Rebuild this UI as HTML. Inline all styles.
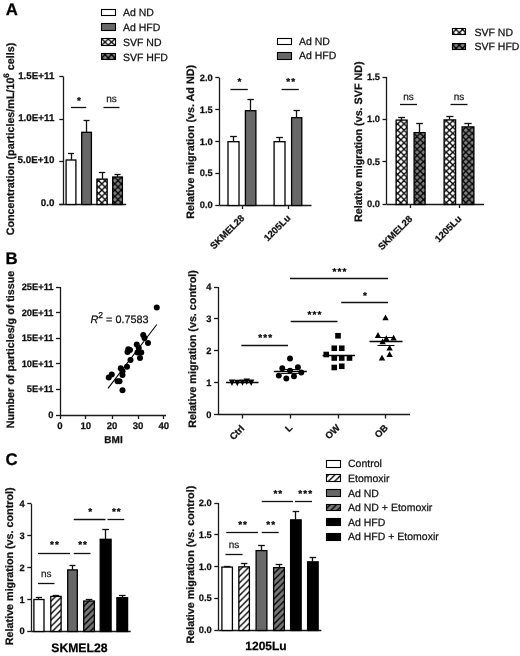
<!DOCTYPE html>
<html><head><meta charset="utf-8"><style>
html,body{margin:0;padding:0;background:#fff;width:520px;height:656px;overflow:hidden;font-family:"Liberation Sans", sans-serif;}
</style></head><body>
<svg width="520" height="656" viewBox="0 0 520 656" style="position:absolute;left:0;top:0;will-change:transform" text-rendering="geometricPrecision" font-family='"Liberation Sans", sans-serif'>
<defs>
 <pattern id="xw" patternUnits="userSpaceOnUse" width="6.5" height="6.3" x="4.3" y="1.1">
  <rect width="6.5" height="6.3" fill="#fff"/>
  <path d="M0,0 L6.5,6.3 M6.5,0 L0,6.3" stroke="#000" stroke-width="1.3"/>
 </pattern>
 <pattern id="xg" patternUnits="userSpaceOnUse" width="6.5" height="6.3" x="4.3" y="1.1">
  <rect width="6.5" height="6.3" fill="#808080"/>
  <path d="M0,0 L6.5,6.3 M6.5,0 L0,6.3" stroke="#000" stroke-width="1.3"/>
 </pattern>
 <pattern id="hw" patternUnits="userSpaceOnUse" width="6.3" height="6.3" x="3.3" y="0">
  <rect width="6.3" height="6.3" fill="#fff"/>
  <path d="M-1,7.3 L7.3,-1 M-1,1 L1,-1 M5.3,7.3 L7.3,5.3" stroke="#000" stroke-width="1.4"/>
 </pattern>
 <pattern id="hg" patternUnits="userSpaceOnUse" width="6.3" height="6.3" x="3.3" y="0">
  <rect width="6.3" height="6.3" fill="#777777"/>
  <path d="M-1,7.3 L7.3,-1 M-1,1 L1,-1 M5.3,7.3 L7.3,5.3" stroke="#000" stroke-width="1.4"/>
 </pattern>
</defs>
<text x="5.8" y="15.3" font-size="16.8" font-weight="bold" text-anchor="start" fill="#000" stroke="#000" stroke-width="0.25" >A</text>
<text x="5.6" y="263.8" font-size="16.8" font-weight="bold" text-anchor="start" fill="#000" stroke="#000" stroke-width="0.25" >B</text>
<text x="5.4" y="464.6" font-size="16.8" font-weight="bold" text-anchor="start" fill="#000" stroke="#000" stroke-width="0.25" >C</text>
<rect x="101.5" y="9.5" width="14.0" height="6.0" fill="#fff" stroke="#000" stroke-width="1.1"/>
<rect x="101.5" y="23.5" width="14.0" height="7.0" fill="#686868" stroke="#000" stroke-width="1.1"/>
<rect x="101.5" y="38.5" width="14.0" height="7.0" fill="url(#xw)" stroke="#000" stroke-width="1.1"/>
<rect x="101.5" y="53.5" width="14.0" height="6.0" fill="url(#xg)" stroke="#000" stroke-width="1.1"/>
<text x="123" y="16.3" font-size="10.5" font-weight="normal" text-anchor="start" fill="#111" stroke="#111" stroke-width="0.25" >Ad ND</text>
<text x="123" y="31.3" font-size="10.5" font-weight="normal" text-anchor="start" fill="#111" stroke="#111" stroke-width="0.25" >Ad HFD</text>
<text x="123" y="46.3" font-size="10.5" font-weight="normal" text-anchor="start" fill="#111" stroke="#111" stroke-width="0.25" >SVF ND</text>
<text x="123" y="61.3" font-size="10.5" font-weight="normal" text-anchor="start" fill="#111" stroke="#111" stroke-width="0.25" >SVF HFD</text>
<line x1="63.5" y1="76.5" x2="63.5" y2="204" stroke="#1a1a1a" stroke-width="1.3"/>
<line x1="59.3" y1="76.5" x2="63.3" y2="76.5" stroke="#1a1a1a" stroke-width="1.3"/>
<text x="54.4" y="78.5" font-size="9.8" font-weight="bold" text-anchor="end" fill="#111" stroke="#111" stroke-width="0.25" >1.5E+11</text>
<line x1="59.3" y1="119.5" x2="63.3" y2="119.5" stroke="#1a1a1a" stroke-width="1.3"/>
<text x="54.4" y="121.0" font-size="9.8" font-weight="bold" text-anchor="end" fill="#111" stroke="#111" stroke-width="0.25" >1.0E+11</text>
<line x1="59.3" y1="161.5" x2="63.3" y2="161.5" stroke="#1a1a1a" stroke-width="1.3"/>
<text x="54.4" y="163.1" font-size="9.8" font-weight="bold" text-anchor="end" fill="#111" stroke="#111" stroke-width="0.25" >5.0E+10</text>
<line x1="59.3" y1="204.5" x2="63.3" y2="204.5" stroke="#1a1a1a" stroke-width="1.3"/>
<text x="54.4" y="206.0" font-size="9.8" font-weight="bold" text-anchor="end" fill="#111" stroke="#111" stroke-width="0.25" >0.0</text>
<line x1="59.3" y1="204.5" x2="126.2" y2="204.5" stroke="#1a1a1a" stroke-width="1.3"/>
<rect x="66.1" y="160.0" width="9.800000000000011" height="44.5" fill="#fff" stroke="#000" stroke-width="1.3"/>
<line x1="71.5" y1="160.0" x2="71.5" y2="153.2" stroke="#111" stroke-width="1.3"/>
<line x1="67.962" y1="153.5" x2="74.038" y2="153.5" stroke="#111" stroke-width="1.3"/>
<rect x="81.7" y="132.3" width="9.700000000000003" height="72.19999999999999" fill="#686868" stroke="#000" stroke-width="1.3"/>
<line x1="86.5" y1="132.3" x2="86.5" y2="120.1" stroke="#111" stroke-width="1.3"/>
<line x1="83.543" y1="120.5" x2="89.55700000000002" y2="120.5" stroke="#111" stroke-width="1.3"/>
<rect x="96.9" y="179.1" width="10.299999999999997" height="25.400000000000006" fill="url(#xw)" stroke="#000" stroke-width="1.3"/>
<line x1="102.5" y1="179.1" x2="102.5" y2="172.4" stroke="#111" stroke-width="1.3"/>
<line x1="98.85700000000001" y1="172.5" x2="105.24300000000001" y2="172.5" stroke="#111" stroke-width="1.3"/>
<rect x="112.7" y="177.0" width="9.700000000000003" height="27.5" fill="url(#xg)" stroke="#000" stroke-width="1.3"/>
<line x1="117.5" y1="177.0" x2="117.5" y2="174" stroke="#111" stroke-width="1.3"/>
<line x1="114.543" y1="174.5" x2="120.55700000000002" y2="174.5" stroke="#111" stroke-width="1.3"/>
<line x1="70.9" y1="107.5" x2="86.2" y2="107.5" stroke="#111" stroke-width="1.3"/>
<text x="79.55000000000001" y="103.7" font-size="10" font-weight="bold" text-anchor="middle" fill="#000" stroke="#000" stroke-width="0.25" letter-spacing="1.1">*</text>
<line x1="103.5" y1="107.5" x2="119.5" y2="107.5" stroke="#111" stroke-width="1.3"/>
<text x="111.5" y="101.5" font-size="10" font-weight="normal" text-anchor="middle" fill="#222" stroke="#222" stroke-width="0.25" >ns</text>
<text transform="translate(14,139) rotate(-90)" font-size="10.75" font-weight="bold" text-anchor="middle" fill="#111" stroke="#111" stroke-width="0.25">Concentration (particles/mL/10<tspan font-size="8" dy="-5">6</tspan><tspan dy="5"> cells)</tspan></text>
<rect x="277.5" y="38.5" width="14.0" height="6.0" fill="#fff" stroke="#000" stroke-width="1.1"/>
<rect x="277.5" y="52.5" width="14.0" height="7.0" fill="#686868" stroke="#000" stroke-width="1.1"/>
<text x="299" y="44.8" font-size="10.5" font-weight="normal" text-anchor="start" fill="#111" stroke="#111" stroke-width="0.25" >Ad ND</text>
<text x="299" y="59.4" font-size="10.5" font-weight="normal" text-anchor="start" fill="#111" stroke="#111" stroke-width="0.25" >Ad HFD</text>
<line x1="219.5" y1="77.7" x2="219.5" y2="205.3" stroke="#1a1a1a" stroke-width="1.3"/>
<line x1="215.3" y1="77.5" x2="219.3" y2="77.5" stroke="#1a1a1a" stroke-width="1.3"/>
<text x="212.8" y="80.7" font-size="9.3" font-weight="bold" text-anchor="end" fill="#111" stroke="#111" stroke-width="0.25" >2.0</text>
<line x1="215.3" y1="109.5" x2="219.3" y2="109.5" stroke="#1a1a1a" stroke-width="1.3"/>
<text x="212.8" y="112.6" font-size="9.3" font-weight="bold" text-anchor="end" fill="#111" stroke="#111" stroke-width="0.25" >1.5</text>
<line x1="215.3" y1="141.5" x2="219.3" y2="141.5" stroke="#1a1a1a" stroke-width="1.3"/>
<text x="212.8" y="144.5" font-size="9.3" font-weight="bold" text-anchor="end" fill="#111" stroke="#111" stroke-width="0.25" >1.0</text>
<line x1="215.3" y1="173.5" x2="219.3" y2="173.5" stroke="#1a1a1a" stroke-width="1.3"/>
<text x="212.8" y="176.4" font-size="9.3" font-weight="bold" text-anchor="end" fill="#111" stroke="#111" stroke-width="0.25" >0.5</text>
<line x1="215.3" y1="205.5" x2="219.3" y2="205.5" stroke="#1a1a1a" stroke-width="1.3"/>
<text x="212.8" y="208.3" font-size="9.3" font-weight="bold" text-anchor="end" fill="#111" stroke="#111" stroke-width="0.25" >0.0</text>
<line x1="219.3" y1="205.5" x2="311.5" y2="205.5" stroke="#1a1a1a" stroke-width="1.3"/>
<line x1="242.5" y1="205.3" x2="242.5" y2="209" stroke="#1a1a1a" stroke-width="1.3"/>
<line x1="288.5" y1="205.3" x2="288.5" y2="209" stroke="#1a1a1a" stroke-width="1.3"/>
<rect x="228.0" y="141.7" width="11.0" height="63.80000000000001" fill="#fff" stroke="#000" stroke-width="1.3"/>
<line x1="233.5" y1="141.7" x2="233.5" y2="136.7" stroke="#111" stroke-width="1.3"/>
<line x1="230.09" y1="136.5" x2="236.91" y2="136.5" stroke="#111" stroke-width="1.3"/>
<rect x="245.4" y="110.7" width="10.5" height="94.8" fill="#686868" stroke="#000" stroke-width="1.3"/>
<line x1="250.5" y1="110.7" x2="250.5" y2="99.9" stroke="#111" stroke-width="1.3"/>
<line x1="247.395" y1="99.5" x2="253.905" y2="99.5" stroke="#111" stroke-width="1.3"/>
<rect x="274.1" y="141.7" width="10.899999999999977" height="63.80000000000001" fill="#fff" stroke="#000" stroke-width="1.3"/>
<line x1="279.5" y1="141.7" x2="279.5" y2="137.3" stroke="#111" stroke-width="1.3"/>
<line x1="276.171" y1="137.5" x2="282.92900000000003" y2="137.5" stroke="#111" stroke-width="1.3"/>
<rect x="291.6" y="117.7" width="10.199999999999989" height="87.8" fill="#686868" stroke="#000" stroke-width="1.3"/>
<line x1="296.5" y1="117.7" x2="296.5" y2="110.6" stroke="#111" stroke-width="1.3"/>
<line x1="293.53800000000007" y1="110.5" x2="299.862" y2="110.5" stroke="#111" stroke-width="1.3"/>
<line x1="230.4" y1="89.5" x2="247.8" y2="89.5" stroke="#111" stroke-width="1.3"/>
<text x="240.10000000000002" y="84.7" font-size="10" font-weight="bold" text-anchor="middle" fill="#000" stroke="#000" stroke-width="0.25" letter-spacing="1.1">*</text>
<line x1="281.6" y1="89.5" x2="298.8" y2="89.5" stroke="#111" stroke-width="1.3"/>
<text x="291.20000000000005" y="84.7" font-size="10" font-weight="bold" text-anchor="middle" fill="#000" stroke="#000" stroke-width="0.25" letter-spacing="1.1">**</text>
<text transform="translate(193.5,141.85) rotate(-90)" font-size="10.75" font-weight="bold" text-anchor="middle" fill="#111" stroke="#111" stroke-width="0.25">Relative migration (vs. Ad ND)</text>
<text transform="translate(245,218.7) rotate(-45)" font-size="9.5" font-weight="bold" text-anchor="end" fill="#111" stroke="#111" stroke-width="0.25">SKMEL28</text>
<text transform="translate(291,218.7) rotate(-45)" font-size="9.5" font-weight="bold" text-anchor="end" fill="#111" stroke="#111" stroke-width="0.25">1205Lu</text>
<rect x="452.5" y="28.5" width="13.0" height="6.0" fill="url(#xw)" stroke="#000" stroke-width="1.1"/>
<rect x="452.5" y="43.5" width="13.0" height="6.0" fill="url(#xg)" stroke="#000" stroke-width="1.1"/>
<text x="474.5" y="35.5" font-size="10.5" font-weight="normal" text-anchor="start" fill="#111" stroke="#111" stroke-width="0.25" >SVF ND</text>
<text x="474.5" y="50.3" font-size="10.5" font-weight="normal" text-anchor="start" fill="#111" stroke="#111" stroke-width="0.25" >SVF HFD</text>
<line x1="386.5" y1="77" x2="386.5" y2="204.3" stroke="#1a1a1a" stroke-width="1.3"/>
<line x1="382.5" y1="77.5" x2="386.5" y2="77.5" stroke="#1a1a1a" stroke-width="1.3"/>
<text x="380.0" y="80.0" font-size="9.3" font-weight="bold" text-anchor="end" fill="#111" stroke="#111" stroke-width="0.25" >1.5</text>
<line x1="382.5" y1="119.5" x2="386.5" y2="119.5" stroke="#1a1a1a" stroke-width="1.3"/>
<text x="380.0" y="122.2" font-size="9.3" font-weight="bold" text-anchor="end" fill="#111" stroke="#111" stroke-width="0.25" >1.0</text>
<line x1="382.5" y1="161.5" x2="386.5" y2="161.5" stroke="#1a1a1a" stroke-width="1.3"/>
<text x="380.0" y="164.7" font-size="9.3" font-weight="bold" text-anchor="end" fill="#111" stroke="#111" stroke-width="0.25" >0.5</text>
<line x1="382.5" y1="204.5" x2="386.5" y2="204.5" stroke="#1a1a1a" stroke-width="1.3"/>
<text x="380.0" y="207.3" font-size="9.3" font-weight="bold" text-anchor="end" fill="#111" stroke="#111" stroke-width="0.25" >0.0</text>
<line x1="386.5" y1="204.5" x2="484" y2="204.5" stroke="#1a1a1a" stroke-width="1.3"/>
<line x1="410.5" y1="204" x2="410.5" y2="208" stroke="#1a1a1a" stroke-width="1.3"/>
<line x1="459.5" y1="204" x2="459.5" y2="208" stroke="#1a1a1a" stroke-width="1.3"/>
<rect x="396.1" y="120.1" width="11.0" height="84.4" fill="url(#xw)" stroke="#000" stroke-width="1.3"/>
<line x1="401.5" y1="120.1" x2="401.5" y2="117.3" stroke="#111" stroke-width="1.3"/>
<line x1="398.19" y1="117.5" x2="405.01000000000005" y2="117.5" stroke="#111" stroke-width="1.3"/>
<rect x="414.1" y="132.6" width="11.0" height="71.9" fill="url(#xg)" stroke="#000" stroke-width="1.3"/>
<line x1="419.5" y1="132.6" x2="419.5" y2="123.9" stroke="#111" stroke-width="1.3"/>
<line x1="416.19" y1="123.5" x2="423.01000000000005" y2="123.5" stroke="#111" stroke-width="1.3"/>
<rect x="444.1" y="119.9" width="11.5" height="84.6" fill="url(#xw)" stroke="#000" stroke-width="1.3"/>
<line x1="449.5" y1="119.9" x2="449.5" y2="116.5" stroke="#111" stroke-width="1.3"/>
<line x1="446.285" y1="116.5" x2="453.415" y2="116.5" stroke="#111" stroke-width="1.3"/>
<rect x="462.1" y="126.9" width="11.799999999999955" height="77.6" fill="url(#xg)" stroke="#000" stroke-width="1.3"/>
<line x1="468.5" y1="126.9" x2="468.5" y2="123" stroke="#111" stroke-width="1.3"/>
<line x1="464.34200000000004" y1="123.5" x2="471.65799999999996" y2="123.5" stroke="#111" stroke-width="1.3"/>
<line x1="400" y1="104.5" x2="417" y2="104.5" stroke="#111" stroke-width="1.3"/>
<text x="408.5" y="100" font-size="10" font-weight="normal" text-anchor="middle" fill="#222" stroke="#222" stroke-width="0.25" >ns</text>
<line x1="450.5" y1="104.5" x2="467.5" y2="104.5" stroke="#111" stroke-width="1.3"/>
<text x="459.0" y="100" font-size="10" font-weight="normal" text-anchor="middle" fill="#222" stroke="#222" stroke-width="0.25" >ns</text>
<text transform="translate(361.5,141.75) rotate(-90)" font-size="10.75" font-weight="bold" text-anchor="middle" fill="#111" stroke="#111" stroke-width="0.25">Relative migration (vs. SVF ND)</text>
<text transform="translate(413,219.5) rotate(-45)" font-size="9.5" font-weight="bold" text-anchor="end" fill="#111" stroke="#111" stroke-width="0.25">SKMEL28</text>
<text transform="translate(462,219.5) rotate(-45)" font-size="9.5" font-weight="bold" text-anchor="end" fill="#111" stroke="#111" stroke-width="0.25">1205Lu</text>
<line x1="60.5" y1="287" x2="60.5" y2="415" stroke="#1a1a1a" stroke-width="1.3"/>
<line x1="56" y1="287.5" x2="60" y2="287.5" stroke="#1a1a1a" stroke-width="1.3"/>
<text x="53.5" y="290.0" font-size="9.3" font-weight="bold" text-anchor="end" fill="#111" stroke="#111" stroke-width="0.25" >25E+11</text>
<line x1="56" y1="312.5" x2="60" y2="312.5" stroke="#1a1a1a" stroke-width="1.3"/>
<text x="53.5" y="315.5" font-size="9.3" font-weight="bold" text-anchor="end" fill="#111" stroke="#111" stroke-width="0.25" >20E+11</text>
<line x1="56" y1="338.5" x2="60" y2="338.5" stroke="#1a1a1a" stroke-width="1.3"/>
<text x="53.5" y="341.2" font-size="9.3" font-weight="bold" text-anchor="end" fill="#111" stroke="#111" stroke-width="0.25" >15E+11</text>
<line x1="56" y1="363.5" x2="60" y2="363.5" stroke="#1a1a1a" stroke-width="1.3"/>
<text x="53.5" y="366.8" font-size="9.3" font-weight="bold" text-anchor="end" fill="#111" stroke="#111" stroke-width="0.25" >10E+11</text>
<line x1="56" y1="389.5" x2="60" y2="389.5" stroke="#1a1a1a" stroke-width="1.3"/>
<text x="53.5" y="392.3" font-size="9.3" font-weight="bold" text-anchor="end" fill="#111" stroke="#111" stroke-width="0.25" >5E+11</text>
<line x1="56" y1="415.5" x2="60" y2="415.5" stroke="#1a1a1a" stroke-width="1.3"/>
<text x="53.5" y="418.0" font-size="9.3" font-weight="bold" text-anchor="end" fill="#111" stroke="#111" stroke-width="0.25" >0</text>
<line x1="60" y1="415.5" x2="166" y2="415.5" stroke="#1a1a1a" stroke-width="1.3"/>
<line x1="60.5" y1="415" x2="60.5" y2="419" stroke="#1a1a1a" stroke-width="1.3"/>
<text x="60" y="428.6" font-size="9.6" font-weight="bold" text-anchor="middle" fill="#111" stroke="#111" stroke-width="0.25" >0</text>
<line x1="85.5" y1="415" x2="85.5" y2="419" stroke="#1a1a1a" stroke-width="1.3"/>
<text x="85.8" y="428.6" font-size="9.6" font-weight="bold" text-anchor="middle" fill="#111" stroke="#111" stroke-width="0.25" >10</text>
<line x1="112.5" y1="415" x2="112.5" y2="419" stroke="#1a1a1a" stroke-width="1.3"/>
<text x="112" y="428.6" font-size="9.6" font-weight="bold" text-anchor="middle" fill="#111" stroke="#111" stroke-width="0.25" >20</text>
<line x1="138.5" y1="415" x2="138.5" y2="419" stroke="#1a1a1a" stroke-width="1.3"/>
<text x="138" y="428.6" font-size="9.6" font-weight="bold" text-anchor="middle" fill="#111" stroke="#111" stroke-width="0.25" >30</text>
<line x1="163.5" y1="415" x2="163.5" y2="419" stroke="#1a1a1a" stroke-width="1.3"/>
<text x="163.8" y="428.6" font-size="9.6" font-weight="bold" text-anchor="middle" fill="#111" stroke="#111" stroke-width="0.25" >40</text>
<text x="113.5" y="442.5" font-size="10" font-weight="bold" text-anchor="middle" fill="#111" stroke="#111" stroke-width="0.25" >BMI</text>
<text transform="translate(14,349.5) rotate(-90)" font-size="10.75" font-weight="bold" text-anchor="middle" fill="#111" stroke="#111" stroke-width="0.25">Number of particles/g of tissue</text>
<text x="90.5" y="323" font-size="10.8" fill="#111" stroke="#111" stroke-width="0.25"><tspan font-style="italic">R</tspan><tspan font-size="8.6" dy="-5">2</tspan><tspan dy="5"> = 0.7583</tspan></text>
<line x1="108" y1="388.3" x2="156.8" y2="324.5" stroke="#000" stroke-width="1.1"/>
<circle cx="156.75" cy="307.5" r="3.0" fill="#000"/>
<circle cx="143.25" cy="335" r="3.0" fill="#000"/>
<circle cx="144.5" cy="338" r="3.0" fill="#000"/>
<circle cx="148" cy="343" r="3.0" fill="#000"/>
<circle cx="136.75" cy="344.5" r="3.0" fill="#000"/>
<circle cx="138.75" cy="348" r="3.0" fill="#000"/>
<circle cx="128.25" cy="349.25" r="3.0" fill="#000"/>
<circle cx="130" cy="350" r="3.0" fill="#000"/>
<circle cx="127.5" cy="352" r="3.0" fill="#000"/>
<circle cx="137.5" cy="352.5" r="3.0" fill="#000"/>
<circle cx="141.25" cy="352.5" r="3.0" fill="#000"/>
<circle cx="140" cy="358" r="3.0" fill="#000"/>
<circle cx="130.5" cy="360" r="3.0" fill="#000"/>
<circle cx="127" cy="366.75" r="3.0" fill="#000"/>
<circle cx="120.75" cy="368.25" r="3.0" fill="#000"/>
<circle cx="122.5" cy="371.25" r="3.0" fill="#000"/>
<circle cx="111.75" cy="374.5" r="3.0" fill="#000"/>
<circle cx="108.75" cy="377.5" r="3.0" fill="#000"/>
<circle cx="122.5" cy="375" r="3.0" fill="#000"/>
<circle cx="117.5" cy="381.25" r="3.0" fill="#000"/>
<circle cx="119.5" cy="381.25" r="3.0" fill="#000"/>
<circle cx="122.5" cy="390.3" r="3.0" fill="#000"/>
<line x1="218.5" y1="287" x2="218.5" y2="414.5" stroke="#1a1a1a" stroke-width="1.3"/>
<line x1="214" y1="287.5" x2="218" y2="287.5" stroke="#1a1a1a" stroke-width="1.3"/>
<text x="211.5" y="290.0" font-size="9.3" font-weight="bold" text-anchor="end" fill="#111" stroke="#111" stroke-width="0.25" >4</text>
<line x1="214" y1="318.5" x2="218" y2="318.5" stroke="#1a1a1a" stroke-width="1.3"/>
<text x="211.5" y="321.8" font-size="9.3" font-weight="bold" text-anchor="end" fill="#111" stroke="#111" stroke-width="0.25" >3</text>
<line x1="214" y1="350.5" x2="218" y2="350.5" stroke="#1a1a1a" stroke-width="1.3"/>
<text x="211.5" y="353.5" font-size="9.3" font-weight="bold" text-anchor="end" fill="#111" stroke="#111" stroke-width="0.25" >2</text>
<line x1="214" y1="382.5" x2="218" y2="382.5" stroke="#1a1a1a" stroke-width="1.3"/>
<text x="211.5" y="385.5" font-size="9.3" font-weight="bold" text-anchor="end" fill="#111" stroke="#111" stroke-width="0.25" >1</text>
<line x1="214" y1="414.5" x2="218" y2="414.5" stroke="#1a1a1a" stroke-width="1.3"/>
<text x="211.5" y="417.5" font-size="9.3" font-weight="bold" text-anchor="end" fill="#111" stroke="#111" stroke-width="0.25" >0</text>
<line x1="218" y1="414.5" x2="410" y2="414.5" stroke="#1a1a1a" stroke-width="1.3"/>
<line x1="242.5" y1="414.5" x2="242.5" y2="418.5" stroke="#1a1a1a" stroke-width="1.3"/>
<line x1="290.5" y1="414.5" x2="290.5" y2="418.5" stroke="#1a1a1a" stroke-width="1.3"/>
<line x1="338.5" y1="414.5" x2="338.5" y2="418.5" stroke="#1a1a1a" stroke-width="1.3"/>
<line x1="385.5" y1="414.5" x2="385.5" y2="418.5" stroke="#1a1a1a" stroke-width="1.3"/>
<text transform="translate(196,349) rotate(-90)" font-size="10.75" font-weight="bold" text-anchor="middle" fill="#111" stroke="#111" stroke-width="0.25">Relative migration (vs. control)</text>
<text transform="translate(245,429) rotate(-45)" font-size="9.5" font-weight="bold" text-anchor="end" fill="#111" stroke="#111" stroke-width="0.25">Ctrl</text>
<text transform="translate(293,428.3) rotate(-45)" font-size="9.5" font-weight="bold" text-anchor="end" fill="#111" stroke="#111" stroke-width="0.25">L</text>
<text transform="translate(340.5,428.3) rotate(-45)" font-size="9.5" font-weight="bold" text-anchor="end" fill="#111" stroke="#111" stroke-width="0.25">OW</text>
<text transform="translate(388.5,428.3) rotate(-45)" font-size="9.5" font-weight="bold" text-anchor="end" fill="#111" stroke="#111" stroke-width="0.25">OB</text>
<path d="M228.9,379.5 L235.1,379.5 L232,385.90000000000003 Z" fill="#000"/>
<path d="M234.20000000000002,379.8 L240.4,379.8 L237.3,386.20000000000005 Z" fill="#000"/>
<path d="M239.4,379.4 L245.6,379.4 L242.5,385.8 Z" fill="#000"/>
<path d="M243.70000000000002,378.59999999999997 L249.9,378.59999999999997 L246.8,385.0 Z" fill="#000"/>
<path d="M248.1,379.59999999999997 L254.29999999999998,379.59999999999997 L251.2,386.0 Z" fill="#000"/>
<line x1="226" y1="382.5" x2="258.5" y2="382.5" stroke="#000" stroke-width="1.3"/>
<circle cx="290" cy="358.5" r="2.95" fill="#000"/>
<circle cx="282.3" cy="368.2" r="2.95" fill="#000"/>
<circle cx="297.9" cy="367.3" r="2.95" fill="#000"/>
<circle cx="290" cy="370.6" r="2.95" fill="#000"/>
<circle cx="301.3" cy="372.5" r="2.95" fill="#000"/>
<circle cx="278.8" cy="375.6" r="2.95" fill="#000"/>
<circle cx="294" cy="376.3" r="2.95" fill="#000"/>
<circle cx="286.3" cy="378.5" r="2.95" fill="#000"/>
<line x1="273.8" y1="371.5" x2="306.8" y2="371.5" stroke="#000" stroke-width="1.3"/>
<line x1="281" y1="369.5" x2="299" y2="369.5" stroke="#000" stroke-width="0.9"/>
<line x1="281" y1="373.5" x2="299" y2="373.5" stroke="#000" stroke-width="0.9"/>
<rect x="335.2" y="332.95" width="5.6" height="5.6" fill="#000"/>
<rect x="331.45" y="345.45" width="5.6" height="5.6" fill="#000"/>
<rect x="338.95" y="345.45" width="5.6" height="5.6" fill="#000"/>
<rect x="323.45" y="351.7" width="5.6" height="5.6" fill="#000"/>
<rect x="331.45" y="355.2" width="5.6" height="5.6" fill="#000"/>
<rect x="338.95" y="355.2" width="5.6" height="5.6" fill="#000"/>
<rect x="346.7" y="355.2" width="5.6" height="5.6" fill="#000"/>
<rect x="331.45" y="364.7" width="5.6" height="5.6" fill="#000"/>
<rect x="338.95" y="363.45" width="5.6" height="5.6" fill="#000"/>
<line x1="322.5" y1="355.5" x2="355" y2="355.5" stroke="#000" stroke-width="1.3"/>
<line x1="329.5" y1="352.5" x2="347" y2="352.5" stroke="#fff" stroke-width="0.9"/>
<path d="M382.3,320.2 L388.7,320.2 L385.5,314.4 Z" fill="#000"/>
<path d="M374.8,337.9 L381.2,337.9 L378,332.09999999999997 Z" fill="#000"/>
<path d="M390.40000000000003,340.5 L396.8,340.5 L393.6,334.7 Z" fill="#000"/>
<path d="M383.1,341.09999999999997 L389.5,341.09999999999997 L386.3,335.29999999999995 Z" fill="#000"/>
<path d="M379.40000000000003,344.2 L385.8,344.2 L382.6,338.4 Z" fill="#000"/>
<path d="M386.40000000000003,350.59999999999997 L392.8,350.59999999999997 L389.6,344.79999999999995 Z" fill="#000"/>
<path d="M378.8,360.59999999999997 L385.2,360.59999999999997 L382,354.79999999999995 Z" fill="#000"/>
<path d="M386.40000000000003,357.0 L392.8,357.0 L389.6,351.2 Z" fill="#000"/>
<line x1="369.5" y1="341.5" x2="402.5" y2="341.5" stroke="#000" stroke-width="1.3"/>
<line x1="377.5" y1="337.5" x2="394.5" y2="337.5" stroke="#000" stroke-width="1"/>
<line x1="377.5" y1="345.5" x2="394.5" y2="345.5" stroke="#000" stroke-width="1"/>
<line x1="241.3" y1="345.5" x2="288" y2="345.5" stroke="#111" stroke-width="1.3"/>
<text x="265.65" y="341.3" font-size="10" font-weight="bold" text-anchor="middle" fill="#000" stroke="#000" stroke-width="0.25" letter-spacing="1.1">***</text>
<line x1="290.7" y1="321.5" x2="337.5" y2="321.5" stroke="#111" stroke-width="1.3"/>
<text x="315.1" y="317.8" font-size="10" font-weight="bold" text-anchor="middle" fill="#000" stroke="#000" stroke-width="0.25" letter-spacing="1.1">***</text>
<line x1="341.2" y1="302.5" x2="388" y2="302.5" stroke="#111" stroke-width="1.3"/>
<text x="365.6" y="298.5" font-size="10" font-weight="bold" text-anchor="middle" fill="#000" stroke="#000" stroke-width="0.25" letter-spacing="1.1">*</text>
<line x1="290" y1="278.5" x2="388" y2="278.5" stroke="#111" stroke-width="1.3"/>
<text x="340.0" y="274.8" font-size="10" font-weight="bold" text-anchor="middle" fill="#000" stroke="#000" stroke-width="0.25" letter-spacing="1.1">***</text>
<line x1="31.5" y1="503.75" x2="31.5" y2="631.3" stroke="#1a1a1a" stroke-width="1.3"/>
<line x1="27.25" y1="503.5" x2="31.25" y2="503.5" stroke="#1a1a1a" stroke-width="1.3"/>
<text x="24.75" y="506.75" font-size="9.3" font-weight="bold" text-anchor="end" fill="#111" stroke="#111" stroke-width="0.25" >4</text>
<line x1="27.25" y1="535.5" x2="31.25" y2="535.5" stroke="#1a1a1a" stroke-width="1.3"/>
<text x="24.75" y="538.5" font-size="9.3" font-weight="bold" text-anchor="end" fill="#111" stroke="#111" stroke-width="0.25" >3</text>
<line x1="27.25" y1="567.5" x2="31.25" y2="567.5" stroke="#1a1a1a" stroke-width="1.3"/>
<text x="24.75" y="570.5" font-size="9.3" font-weight="bold" text-anchor="end" fill="#111" stroke="#111" stroke-width="0.25" >2</text>
<line x1="27.25" y1="599.5" x2="31.25" y2="599.5" stroke="#1a1a1a" stroke-width="1.3"/>
<text x="24.75" y="602.5" font-size="9.3" font-weight="bold" text-anchor="end" fill="#111" stroke="#111" stroke-width="0.25" >1</text>
<line x1="27.25" y1="631.5" x2="31.25" y2="631.5" stroke="#1a1a1a" stroke-width="1.3"/>
<text x="24.75" y="634.3" font-size="9.3" font-weight="bold" text-anchor="end" fill="#111" stroke="#111" stroke-width="0.25" >0</text>
<line x1="31.25" y1="631.5" x2="130.7" y2="631.5" stroke="#1a1a1a" stroke-width="1.3"/>
<rect x="33.9" y="599.5" width="10.100000000000001" height="32.0" fill="#fff" stroke="#000" stroke-width="1.3"/>
<line x1="38.5" y1="599.5" x2="38.5" y2="597.5" stroke="#111" stroke-width="1.3"/>
<line x1="35.819" y1="597.5" x2="42.081" y2="597.5" stroke="#111" stroke-width="1.3"/>
<rect x="50.8" y="596.4" width="10.300000000000004" height="35.10000000000002" fill="url(#hw)" stroke="#000" stroke-width="1.3"/>
<line x1="55.5" y1="596.4" x2="55.5" y2="595.0" stroke="#111" stroke-width="1.3"/>
<line x1="52.757000000000005" y1="595.5" x2="59.143" y2="595.5" stroke="#111" stroke-width="1.3"/>
<rect x="67.7" y="569.9" width="9.599999999999994" height="61.60000000000002" fill="#686868" stroke="#000" stroke-width="1.3"/>
<line x1="72.5" y1="569.9" x2="72.5" y2="565" stroke="#111" stroke-width="1.3"/>
<line x1="69.524" y1="565.5" x2="75.476" y2="565.5" stroke="#111" stroke-width="1.3"/>
<rect x="83.7" y="601.0" width="10.700000000000003" height="30.5" fill="url(#hg)" stroke="#000" stroke-width="1.3"/>
<line x1="89.5" y1="601.0" x2="89.5" y2="599.5" stroke="#111" stroke-width="1.3"/>
<line x1="85.733" y1="599.5" x2="92.36700000000002" y2="599.5" stroke="#111" stroke-width="1.3"/>
<rect x="100.2" y="539.3" width="10.899999999999991" height="92.20000000000005" fill="#000" stroke="#000" stroke-width="1.3"/>
<line x1="105.5" y1="539.3" x2="105.5" y2="529.4" stroke="#111" stroke-width="1.3"/>
<line x1="102.27100000000002" y1="529.5" x2="109.029" y2="529.5" stroke="#111" stroke-width="1.3"/>
<rect x="116.9" y="597.7" width="10.699999999999989" height="33.799999999999955" fill="#000" stroke="#000" stroke-width="1.3"/>
<line x1="122.5" y1="597.7" x2="122.5" y2="595.3" stroke="#111" stroke-width="1.3"/>
<line x1="118.933" y1="595.5" x2="125.567" y2="595.5" stroke="#111" stroke-width="1.3"/>
<line x1="38" y1="583.5" x2="54.5" y2="583.5" stroke="#111" stroke-width="1.3"/>
<text x="46.25" y="577" font-size="10" font-weight="normal" text-anchor="middle" fill="#222" stroke="#222" stroke-width="0.25" >ns</text>
<line x1="38" y1="553.5" x2="70" y2="553.5" stroke="#111" stroke-width="1.3"/>
<text x="55.0" y="548.2" font-size="10" font-weight="bold" text-anchor="middle" fill="#000" stroke="#000" stroke-width="0.25" letter-spacing="1.1">**</text>
<line x1="73.75" y1="553.5" x2="90.5" y2="553.5" stroke="#111" stroke-width="1.3"/>
<text x="83.125" y="548.2" font-size="10" font-weight="bold" text-anchor="middle" fill="#000" stroke="#000" stroke-width="0.25" letter-spacing="1.1">**</text>
<line x1="73.75" y1="519.5" x2="105.5" y2="519.5" stroke="#111" stroke-width="1.3"/>
<text x="90.625" y="514.7" font-size="10" font-weight="bold" text-anchor="middle" fill="#000" stroke="#000" stroke-width="0.25" letter-spacing="1.1">*</text>
<line x1="107.5" y1="519.5" x2="124.25" y2="519.5" stroke="#111" stroke-width="1.3"/>
<text x="116.875" y="514.7" font-size="10" font-weight="bold" text-anchor="middle" fill="#000" stroke="#000" stroke-width="0.25" letter-spacing="1.1">**</text>
<text transform="translate(13,566.3) rotate(-90)" font-size="10.75" font-weight="bold" text-anchor="middle" fill="#111" stroke="#111" stroke-width="0.25">Relative migration (vs. control)</text>
<text x="79.4" y="651.8" font-size="12.2" font-weight="bold" text-anchor="middle" fill="#000" stroke="#000" stroke-width="0.25" >SKMEL28</text>
<line x1="218.5" y1="503" x2="218.5" y2="630.2" stroke="#1a1a1a" stroke-width="1.3"/>
<line x1="214.3" y1="503.5" x2="218.3" y2="503.5" stroke="#1a1a1a" stroke-width="1.3"/>
<text x="211.8" y="506.0" font-size="9.3" font-weight="bold" text-anchor="end" fill="#111" stroke="#111" stroke-width="0.25" >2.0</text>
<line x1="214.3" y1="534.5" x2="218.3" y2="534.5" stroke="#1a1a1a" stroke-width="1.3"/>
<text x="211.8" y="537.5" font-size="9.3" font-weight="bold" text-anchor="end" fill="#111" stroke="#111" stroke-width="0.25" >1.5</text>
<line x1="214.3" y1="566.5" x2="218.3" y2="566.5" stroke="#1a1a1a" stroke-width="1.3"/>
<text x="211.8" y="569.75" font-size="9.3" font-weight="bold" text-anchor="end" fill="#111" stroke="#111" stroke-width="0.25" >1.0</text>
<line x1="214.3" y1="598.5" x2="218.3" y2="598.5" stroke="#1a1a1a" stroke-width="1.3"/>
<text x="211.8" y="601.3" font-size="9.3" font-weight="bold" text-anchor="end" fill="#111" stroke="#111" stroke-width="0.25" >0.5</text>
<line x1="214.3" y1="630.5" x2="218.3" y2="630.5" stroke="#1a1a1a" stroke-width="1.3"/>
<text x="211.8" y="633.2" font-size="9.3" font-weight="bold" text-anchor="end" fill="#111" stroke="#111" stroke-width="0.25" >0.0</text>
<line x1="218.3" y1="630.5" x2="321.4" y2="630.5" stroke="#1a1a1a" stroke-width="1.3"/>
<rect x="221.9" y="567.1" width="10.5" height="63.39999999999998" fill="#fff" stroke="#000" stroke-width="1.3"/>
<line x1="227.5" y1="567.1" x2="227.5" y2="566" stroke="#111" stroke-width="1.3"/>
<line x1="223.895" y1="566.5" x2="230.405" y2="566.5" stroke="#111" stroke-width="1.3"/>
<rect x="238.85" y="566.85" width="10.550000000000011" height="63.64999999999998" fill="url(#hw)" stroke="#000" stroke-width="1.3"/>
<line x1="244.5" y1="566.85" x2="244.5" y2="563" stroke="#111" stroke-width="1.3"/>
<line x1="240.8545" y1="563.5" x2="247.3955" y2="563.5" stroke="#111" stroke-width="1.3"/>
<rect x="256.1" y="550.6" width="10.799999999999955" height="79.89999999999998" fill="#686868" stroke="#000" stroke-width="1.3"/>
<line x1="261.5" y1="550.6" x2="261.5" y2="545" stroke="#111" stroke-width="1.3"/>
<line x1="258.152" y1="545.5" x2="264.848" y2="545.5" stroke="#111" stroke-width="1.3"/>
<rect x="273.6" y="567.6" width="10.799999999999955" height="62.89999999999998" fill="url(#hg)" stroke="#000" stroke-width="1.3"/>
<line x1="279.5" y1="567.6" x2="279.5" y2="564.5" stroke="#111" stroke-width="1.3"/>
<line x1="275.652" y1="564.5" x2="282.348" y2="564.5" stroke="#111" stroke-width="1.3"/>
<rect x="290.6" y="519.85" width="10.549999999999955" height="110.64999999999998" fill="#000" stroke="#000" stroke-width="1.3"/>
<line x1="295.5" y1="519.85" x2="295.5" y2="511.25" stroke="#111" stroke-width="1.3"/>
<line x1="292.60450000000003" y1="511.5" x2="299.14549999999997" y2="511.5" stroke="#111" stroke-width="1.3"/>
<rect x="307.6" y="561.85" width="10.549999999999955" height="68.64999999999998" fill="#000" stroke="#000" stroke-width="1.3"/>
<line x1="312.5" y1="561.85" x2="312.5" y2="557.5" stroke="#111" stroke-width="1.3"/>
<line x1="309.60450000000003" y1="557.5" x2="316.14549999999997" y2="557.5" stroke="#111" stroke-width="1.3"/>
<line x1="225.5" y1="554.5" x2="242.5" y2="554.5" stroke="#111" stroke-width="1.3"/>
<text x="234.0" y="548" font-size="10" font-weight="normal" text-anchor="middle" fill="#222" stroke="#222" stroke-width="0.25" >ns</text>
<line x1="226.25" y1="532.5" x2="258" y2="532.5" stroke="#111" stroke-width="1.3"/>
<text x="243.125" y="528.2" font-size="10" font-weight="bold" text-anchor="middle" fill="#000" stroke="#000" stroke-width="0.25" letter-spacing="1.1">**</text>
<line x1="261.75" y1="532.5" x2="278.75" y2="532.5" stroke="#111" stroke-width="1.3"/>
<text x="271.25" y="528.2" font-size="10" font-weight="bold" text-anchor="middle" fill="#000" stroke="#000" stroke-width="0.25" letter-spacing="1.1">**</text>
<line x1="261.75" y1="501.5" x2="293" y2="501.5" stroke="#111" stroke-width="1.3"/>
<text x="278.375" y="496.7" font-size="10" font-weight="bold" text-anchor="middle" fill="#000" stroke="#000" stroke-width="0.25" letter-spacing="1.1">**</text>
<line x1="295" y1="501.5" x2="312" y2="501.5" stroke="#111" stroke-width="1.3"/>
<text x="305.7" y="497.0" font-size="10" font-weight="bold" text-anchor="middle" fill="#000" stroke="#000" stroke-width="0.25" letter-spacing="1.1">***</text>
<text transform="translate(194,564.6) rotate(-90)" font-size="10.75" font-weight="bold" text-anchor="middle" fill="#111" stroke="#111" stroke-width="0.25">Relative migration (vs. control)</text>
<text x="266" y="650" font-size="12" font-weight="bold" text-anchor="middle" fill="#000" stroke="#000" stroke-width="0.25" >1205Lu</text>
<rect x="326.5" y="460.5" width="14.0" height="7.0" fill="#fff" stroke="#000" stroke-width="1.1"/>
<text x="348" y="467.40000000000003" font-size="10.5" font-weight="normal" text-anchor="start" fill="#111" stroke="#111" stroke-width="0.25" >Control</text>
<rect x="326.5" y="474.5" width="14.0" height="7.0" fill="url(#hw)" stroke="#000" stroke-width="1.1"/>
<text x="348" y="482.00000000000006" font-size="10.5" font-weight="normal" text-anchor="start" fill="#111" stroke="#111" stroke-width="0.25" >Etomoxir</text>
<rect x="326.5" y="489.5" width="14.0" height="7.0" fill="#686868" stroke="#000" stroke-width="1.1"/>
<text x="348" y="496.6" font-size="10.5" font-weight="normal" text-anchor="start" fill="#111" stroke="#111" stroke-width="0.25" >Ad ND</text>
<rect x="326.5" y="504.5" width="14.0" height="6.0" fill="url(#hg)" stroke="#000" stroke-width="1.1"/>
<text x="348" y="511.20000000000005" font-size="10.5" font-weight="normal" text-anchor="start" fill="#111" stroke="#111" stroke-width="0.25" >Ad ND + Etomoxir</text>
<rect x="326.5" y="518.5" width="14.0" height="7.0" fill="#000" stroke="#000" stroke-width="1.1"/>
<text x="348" y="525.8000000000001" font-size="10.5" font-weight="normal" text-anchor="start" fill="#111" stroke="#111" stroke-width="0.25" >Ad HFD</text>
<rect x="326.5" y="533.5" width="14.0" height="7.0" fill="#000" stroke="#000" stroke-width="1.1"/>
<text x="348" y="540.4" font-size="10.5" font-weight="normal" text-anchor="start" fill="#111" stroke="#111" stroke-width="0.25" >Ad HFD + Etomoxir</text></svg>
</body></html>
